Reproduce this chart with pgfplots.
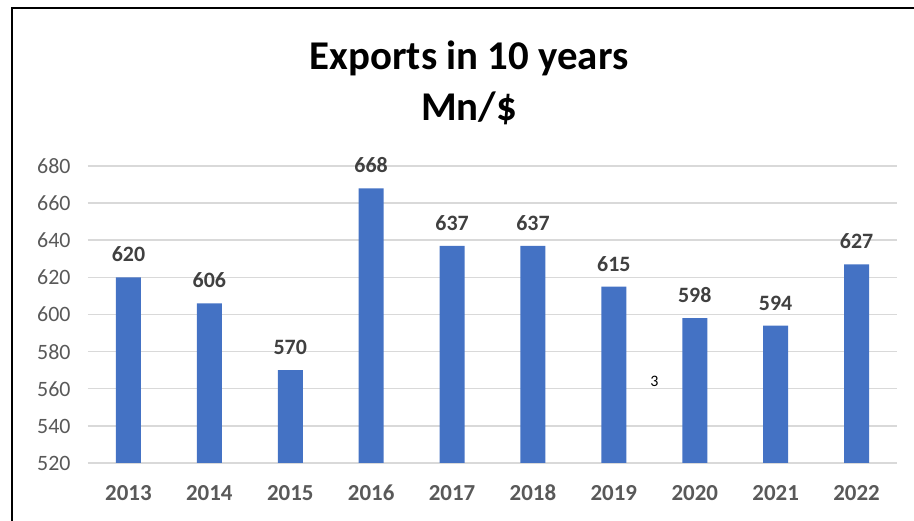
\documentclass[border=0pt]{standalone}
\usepackage{pgfplots}
\pgfplotsset{compat=1.18}
\usepackage{fontspec}
\setmainfont{Carlito}
\definecolor{barblue}{HTML}{4472C4}
\definecolor{gridgray}{HTML}{D9D9D9}
\definecolor{ticktxt}{HTML}{595959}
\definecolor{lbltxt}{HTML}{404040}
\begin{document}
\begin{tikzpicture}[x=1bp,y=1bp]
\useasboundingbox (-88,-58) rectangle (826,463);
\draw[line width=2bp,black] (-76,-58) -- (-76,455) -- (826,455);
\begin{axis}[
  at={(0,0)}, anchor=south west,
  scale only axis, width=809bp, height=297bp,
  xmin=-0.5, xmax=9.5, ymin=520, ymax=680,
  ytick={520,540,...,680},
  xtick=data,
  xticklabels={2013,2014,2015,2016,2017,2018,2019,2020,2021,2022},
  axis line style={draw=none},
  major tick length=0pt,
  ymajorgrids, grid style={gridgray, line width=1.5bp},
  yticklabel style={font=\fontsize{22}{24}\selectfont, text=ticktxt, xshift=-14bp, text height=15bp, text depth=0bp},
  xticklabel style={font=\fontsize{23}{24}\selectfont\bfseries, text=ticktxt, yshift=-18bp, text height=16bp, text depth=0bp},
  /pgf/number format/assume math mode=true,
  /pgf/number format/1000 sep={},
  ybar, bar width=25bp,
  nodes near coords,
  every node near coord/.append style={font=\fontsize{22}{24}\selectfont\bfseries, text=lbltxt, yshift=12bp, text height=15bp, text depth=0bp},
  clip=false,
]
\addplot[fill=barblue, draw=none] coordinates {
(0,620) (1,606) (2,570) (3,668) (4,637) (5,637) (6,615) (7,598) (8,594) (9,627)
};
\node[font=\fontsize{16}{18}\selectfont, text=black] at (axis cs:6.5,564) {3};
\end{axis}
\node[font=\fontsize{41}{44}\selectfont\bfseries, anchor=base, inner sep=0pt] at (381,393) {Exports in 10 years};
\node[font=\fontsize{41}{44}\selectfont\bfseries, anchor=base, inner sep=0pt] at (381,342) {Mn/\$};
\end{tikzpicture}
\end{document}
